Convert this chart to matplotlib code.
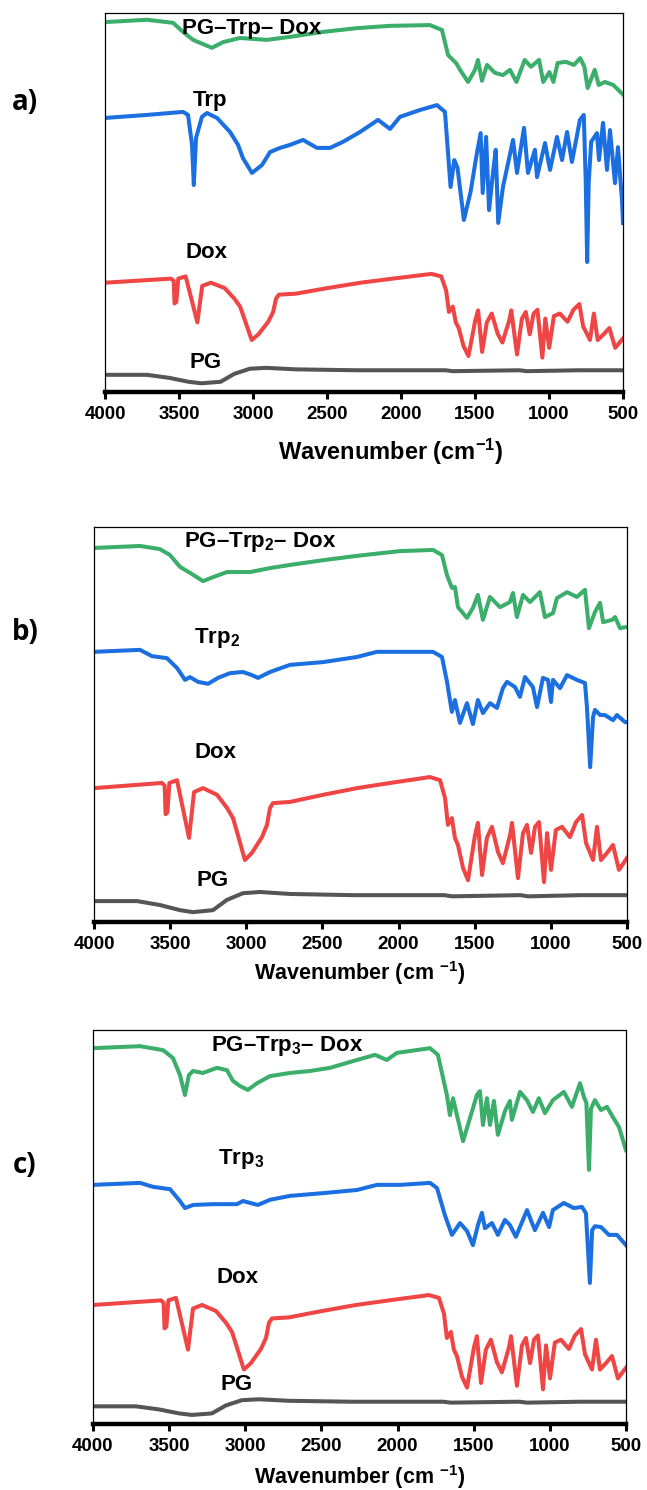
import matplotlib
matplotlib.use("Agg")
import matplotlib.pyplot as plt

plt.rcParams['font.family'] = ['Liberation Sans', 'DejaVu Sans']
plt.rcParams['font.weight'] = 'bold'
plt.rcParams['mathtext.fontset'] = 'custom'
plt.rcParams['mathtext.rm'] = 'Liberation Sans:bold'
plt.rcParams['mathtext.it'] = 'Liberation Sans:bold'
plt.rcParams['mathtext.bf'] = 'Liberation Sans:bold'

# ---- spectra (wavenumber cm-1, relative transmittance) ----
# Dox and PG are the same measurements in all three panels
dox_wn = [4000, 3554, 3536, 3530, 3518, 3505, 3455, 3376, 3343, 3284, 3192, 3127, 3087, 3061, 3009,
          2963, 2897, 2864, 2844, 2825, 2713, 2496, 2273, 2056, 1794, 1728, 1695, 1676, 1650, 1630,
          1610, 1577, 1544, 1498, 1479, 1452, 1420, 1387, 1347, 1315, 1268, 1255, 1216, 1183, 1157,
          1130, 1104, 1078, 1045, 1025, 999, 967, 927, 875, 835, 795, 769, 723, 697, 671, 631, 592,
          553, 500]
dox_t = [33.9, 35.2, 34.5, 27.3, 27.8, 35.2, 35.9, 21.3, 32.9, 33.9, 32.2, 28.9, 26.3, 22.8, 15.7,
         17.5, 21.5, 24.6, 28.9, 30.1, 30.4, 32.2, 33.9, 35.2, 36.7, 35.9, 31.4, 24.6, 26.3, 21.3,
         19.5, 13.7, 10.6, 22.0, 25.1, 11.9, 21.3, 24.1, 17.7, 14.9, 22.0, 25.1, 11.1, 22.5, 24.6,
         17.5, 24.1, 25.3, 10.1, 22.5, 13.2, 23.3, 24.1, 21.5, 25.3, 27.1, 20.0, 15.7, 24.1, 15.7,
         17.5, 19.5, 13.2, 16.2]

pg_wn = [4000, 3718, 3567, 3435, 3350, 3219, 3127, 3022, 2910, 2713, 2300, 1700, 1650, 1200, 1150,
         800, 500]
pg_t = [5.3, 5.3, 4.3, 3.0, 2.5, 3.0, 5.6, 7.3, 7.6, 7.1, 6.8, 6.8, 6.5, 6.8, 6.5, 6.8, 6.8]

# panel a
trp_wn = [4000, 3716, 3473, 3439, 3412, 3400, 3385, 3345, 3311, 3243, 3155, 3101, 3068, 3007, 2939,
          2885, 2818, 2750, 2662, 2568, 2480, 2392, 2277, 2155, 2074, 2007, 1872, 1757, 1703, 1665,
          1640, 1618, 1575, 1530, 1486, 1462, 1448, 1425, 1405, 1378, 1360, 1343, 1311, 1243, 1216,
          1169, 1142, 1095, 1081, 1027, 993, 946, 912, 878, 845, 791, 765, 752, 742, 732, 715, 676,
          662, 635, 608, 588, 554, 534, 507, 500]
trp_t = [72.3, 73.1, 73.9, 73.1, 65.2, 54.6, 67.0, 72.6, 73.6, 72.3, 68.6, 65.2, 61.7, 57.8, 59.9,
         63.3, 64.4, 65.2, 66.5, 64.4, 64.4, 66.0, 68.6, 71.8, 69.4, 72.6, 74.4, 75.7, 73.9, 54.1,
         61.2, 59.1, 45.4, 52.8, 63.3, 68.3, 52.5, 67.3, 48.0, 58.0, 63.9, 44.6, 54.1, 66.5, 57.8,
         69.7, 57.8, 63.9, 56.7, 65.7, 58.6, 67.3, 61.2, 68.6, 60.7, 71.8, 73.1, 55.9, 34.3, 55.0,
         66.0, 68.3, 61.2, 71.0, 58.6, 69.1, 55.1, 64.6, 50.7, 44.6]

ptd_wn = [4000, 3716, 3540, 3473, 3405, 3277, 3203, 3088, 2905, 2750, 2527, 2297, 2074, 1804, 1723,
          1682, 1649, 1628, 1601, 1547, 1500, 1480, 1453, 1419, 1365, 1311, 1264, 1220, 1164, 1122,
          1067, 1039, 997, 970, 942, 887, 831, 789, 761, 739, 691, 664, 622, 566, 511, 500]
ptd_t = [97.6, 98.2, 97.4, 95.0, 92.9, 90.8, 92.3, 93.4, 92.9, 93.7, 95.0, 96.0, 96.6, 96.8, 95.5,
         88.9, 87.6, 86.8, 85.0, 81.8, 85.0, 87.6, 82.1, 86.3, 84.2, 83.6, 85.0, 81.8, 87.6, 85.8,
         87.6, 81.8, 84.4, 81.8, 86.8, 87.1, 86.3, 88.1, 85.8, 80.2, 85.0, 81.0, 81.8, 81.0, 78.9,
         78.5]

# panel b
trp2_wn = [4000, 3698, 3619, 3521, 3455, 3402, 3370, 3317, 3251, 3186, 3107, 3022, 2963, 2923, 2844,
           2713, 2496, 2273, 2142, 1991, 1774, 1715, 1682, 1650, 1630, 1597, 1551, 1512, 1479, 1446,
           1400, 1354, 1315, 1288, 1236, 1203, 1170, 1118, 1091, 1052, 1019, 999, 986, 940, 894,
           829, 776, 763, 742, 723, 710, 677, 645, 592, 566, 513, 500]
trp2_t = [68.4, 68.9, 67.3, 66.8, 64.3, 61.3, 62.0, 60.8, 60.3, 61.8, 63.0, 63.3, 62.5, 61.8, 63.3,
          65.1, 65.8, 67.1, 68.4, 68.4, 68.4, 67.1, 60.8, 53.2, 56.2, 50.4, 55.4, 50.1, 56.2, 52.9,
          55.4, 54.2, 59.2, 60.8, 59.5, 57.0, 62.0, 59.5, 54.4, 61.8, 61.3, 55.7, 61.3, 59.2, 62.5,
          61.3, 60.5, 54.4, 39.2, 51.9, 53.7, 52.4, 52.4, 51.1, 52.4, 50.6, 50.6]

ptd2_wn = [4000, 3698, 3567, 3501, 3435, 3370, 3284, 3219, 3127, 2976, 2844, 2713, 2496, 2273, 1991,
           1774, 1715, 1682, 1650, 1630, 1610, 1551, 1512, 1479, 1446, 1400, 1334, 1269, 1249, 1223,
           1183, 1137, 1072, 1039, 986, 960, 894, 829, 776, 750, 710, 677, 657, 598, 578, 546, 500]
ptd2_t = [94.7, 95.2, 94.4, 92.9, 89.9, 88.4, 86.3, 87.3, 88.6, 88.6, 89.6, 90.4, 91.6, 92.7, 93.9,
          94.2, 92.9, 87.8, 84.6, 84.8, 79.7, 77.0, 79.5, 82.8, 76.5, 82.3, 79.7, 81.0, 83.3, 77.2,
          82.8, 81.0, 83.5, 77.2, 78.2, 82.0, 83.5, 82.3, 84.1, 74.4, 78.5, 80.8, 75.9, 76.5, 77.2,
          74.4, 74.7]

# panel c
trp3_wn = [4000, 3691, 3606, 3494, 3429, 3396, 3343, 3212, 3055, 3015, 2917, 2838, 2707, 2490, 2267,
           2135, 1984, 1787, 1741, 1689, 1643, 1590, 1544, 1505, 1472, 1446, 1426, 1380, 1341, 1295,
           1262, 1223, 1150, 1098, 1045, 1005, 980, 908, 842, 789, 763, 737, 722, 704, 664, 612,
           559, 500]
trp3_t = [60.7, 61.2, 60.2, 59.6, 56.6, 54.8, 55.6, 55.8, 55.8, 56.6, 55.6, 56.9, 57.9, 58.6, 59.4,
          60.7, 60.7, 61.2, 59.9, 53.0, 48.0, 51.0, 49.0, 45.4, 50.5, 53.6, 49.7, 51.0, 48.0, 51.8,
          50.5, 47.5, 54.3, 49.2, 53.6, 50.0, 54.3, 56.1, 54.8, 55.1, 53.5, 35.8, 49.2, 50.2, 50.0,
          48.0, 48.0, 45.4]

ptd3_wn = [4000, 3691, 3540, 3475, 3429, 3396, 3370, 3343, 3278, 3186, 3120, 3081, 3035, 2983, 2923,
           2838, 2707, 2576, 2444, 2267, 2148, 2070, 2004, 1787, 1735, 1676, 1656, 1636, 1610, 1570,
           1524, 1479, 1459, 1439, 1413, 1393, 1367, 1341, 1295, 1262, 1249, 1196, 1150, 1111, 1072,
           1032, 980, 908, 855, 802, 776, 760, 743, 730, 704, 664, 625, 586, 546, 500]
ptd3_t = [95.4, 95.9, 94.9, 92.9, 88.6, 83.5, 88.6, 89.6, 89.1, 90.4, 89.8, 87.1, 85.8, 84.8, 86.5,
          88.3, 89.1, 89.6, 90.4, 92.4, 93.7, 92.4, 94.2, 95.4, 93.7, 83.5, 78.4, 82.7, 78.4, 71.8,
          77.7, 83.5, 84.5, 75.9, 82.7, 75.9, 82.0, 73.4, 79.4, 82.0, 77.2, 84.3, 82.2, 79.2, 82.7,
          78.9, 82.2, 84.3, 80.5, 86.5, 83.0, 81.5, 64.5, 80.0, 82.2, 79.7, 80.5, 77.9, 75.4, 69.5]

xticks = [4000, 3500, 3000, 2500, 2000, 1500, 1000, 500]

GREEN = '#3aae6a'
BLUE = '#1b6fe0'
RED = '#ef4545'
GRAY = '#555555'

fig = plt.figure(figsize=(6.47, 14.90), dpi=100)


def draw_panel(rect, curves, labels):
    ax = fig.add_axes(rect)
    for wn, t, color, k, off in curves:
        ax.plot(wn, [off + k * v for v in t], color=color, lw=2.9, solid_joinstyle='round')
    for txt, x, y in labels:
        ax.text(x, y, txt, ha='center', va='center', fontsize=16, fontweight='bold')
    ax.set_xlim(4000, 500)
    ax.set_ylim(0, 100)
    ax.set_yticks([])
    ax.set_xticks(xticks)
    ax.tick_params(axis='x', direction='out', length=5, width=2.2, labelsize=13.5, pad=5)
    for lab in ax.get_xticklabels():
        lab.set_fontweight('bold')
    for side in ['top', 'right', 'left']:
        ax.spines[side].set_linewidth(0.9)
    ax.spines['bottom'].set_linewidth(3.2)
    return ax


# a)
draw_panel([0.1623, 0.7369, 0.8006, 0.2544],
           [(pg_wn, pg_t, GRAY, 0.8, 0.3),
            (dox_wn, dox_t, RED, 0.83, 0.7),
            (trp_wn, trp_t, BLUE, 1.0, 0.0),
            (ptd_wn, ptd_t, GREEN, 1.0, 0.0)],
           [('PG–Trp– Dox', 3007, 96.0), ('Trp', 3290, 77.0),
            ('Dox', 3311, 36.7), ('PG', 3318, 7.7)])

# b)
draw_panel([0.1453, 0.3812, 0.8238, 0.2651],
           [(pg_wn, pg_t, GRAY, 1.0, 0.0),
            (dox_wn, dox_t, RED, 1.0, 0.0),
            (trp2_wn, trp2_t, BLUE, 1.0, 0.0),
            (ptd2_wn, ptd2_t, GREEN, 1.0, 0.0)],
           [('PG–Trp$_2$– Dox', 2910, 96.2), ('Trp$_2$', 3192, 72.0),
            ('Dox', 3199, 42.8), ('PG', 3219, 10.4)])

# c)
draw_panel([0.1437, 0.0443, 0.8238, 0.2644],
           [(pg_wn, pg_t, GRAY, 0.78, 0.35),
            (dox_wn, dox_t, RED, 0.9, -0.3),
            (trp3_wn, trp3_t, BLUE, 1.0, 0.0),
            (ptd3_wn, ptd3_t, GREEN, 1.0, 0.0)],
           [('PG–Trp$_3$– Dox', 2726, 95.9), ('Trp$_3$', 3028, 67.3),
            ('Dox', 3048, 37.1), ('PG', 3054, 9.9)])

fig.text(0.6043, 0.6966, 'Wavenumber (cm$^{-1}$)', ha='center', va='center',
         fontsize=17, fontweight='bold')
fig.text(0.5564, 0.3470, 'Wavenumber (cm $^{-1}$)', ha='center', va='center',
         fontsize=15.5, fontweight='bold')
fig.text(0.5564, 0.0090, 'Wavenumber (cm $^{-1}$)', ha='center', va='center',
         fontsize=15.5, fontweight='bold')

for letter, y in [('a)', 0.9309), ('b)', 0.5752), ('c)', 0.2181)]:
    fig.text(0.0386, y, letter, ha='center', va='center', fontsize=20, fontweight='bold',
             family=['Open Sans', 'DejaVu Sans'])

fig.savefig('out.png', dpi=100)
